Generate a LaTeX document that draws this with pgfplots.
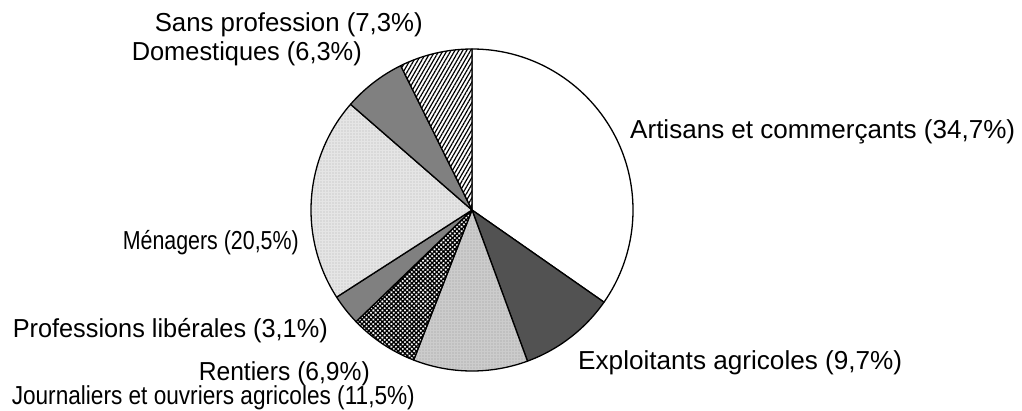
\documentclass[border=0pt]{standalone}
\usepackage{fontspec}
\setmainfont{Liberation Sans}
\usepackage{graphicx}
\usepackage{pgfplots}
\usepackage{pgfplotstable}
\pgfplotsset{compat=1.18}
\usetikzlibrary{patterns.meta}
\pgfkeys{/pgf/number format/assume math mode=true}

% shares in percent; label position in px (x, y from top), anchor and label width
\pgfplotstableread[col sep=comma]{
name,pct,lx,ly,anc,lw
Artisans et commerçants,34.7,630,132,west,385
Exploitants agricoles,9.7,578,363,west,324
Journaliers et ouvriers agricoles,11.5,415,398,east,403
Rentiers,6.9,370,374,east,171
Professions libérales,3.1,328,331,east,315
Ménagers,20.5,299,243,east,176
Domestiques,6.3,362,54,east,230
Sans profession,7.3,423,25,east,268
}\piedata

% slice angles, clockwise from 12 o'clock
\xdef\cum{0}
\foreach \i in {0,...,7}{%
  \pgfplotstablegetelem{\i}{pct}\of\piedata
  \global\expandafter\let\csname pieP\i\endcsname\pgfplotsretval
  \pgfmathsetmacro\a{90-3.6*\cum}%
  \pgfmathsetmacro\c{\cum+\pgfplotsretval}%
  \pgfmathsetmacro\b{90-3.6*\c}%
  \expandafter\xdef\csname pieA\i\endcsname{\a}%
  \expandafter\xdef\csname pieB\i\endcsname{\b}%
  \xdef\cum{\c}%
  \pgfplotstablegetelem{\i}{name}\of\piedata
  \global\expandafter\let\csname pieN\i\endcsname\pgfplotsretval
  \pgfplotstablegetelem{\i}{lx}\of\piedata
  \global\expandafter\let\csname pieX\i\endcsname\pgfplotsretval
  \pgfplotstablegetelem{\i}{ly}\of\piedata
  \pgfmathsetmacro\y{410-\pgfplotsretval}%
  \expandafter\xdef\csname pieY\i\endcsname{\y}%
  \pgfplotstablegetelem{\i}{anc}\of\piedata
  \global\expandafter\let\csname pieK\i\endcsname\pgfplotsretval
  \pgfplotstablegetelem{\i}{lw}\of\piedata
  \global\expandafter\let\csname pieW\i\endcsname\pgfplotsretval
}

\tikzset{
  pie0/.style={fill=white},
  pie1/.style={fill=black!68},
  pie2/.style={fill=black!20, postaction={pattern={Dots[distance=3bp,radius=0.7bp]}, pattern color=black!40}},
  pie3/.style={fill=white, postaction={pattern={Hatch[angle=45,distance=3.2bp,line width=1.3bp]}, pattern color=black}},
  pie4/.style={fill=black!50},
  pie5/.style={fill=black!10, postaction={pattern={Dots[distance=3bp,radius=0.6bp]}, pattern color=black!30}},
  pie6/.style={fill=black!50},
  pie7/.style={fill=white, postaction={pattern={Lines[angle=60,distance=3.4bp,line width=1.2bp]}, pattern color=black}},
}

\begin{document}
\begin{tikzpicture}
\begin{axis}[
  scale only axis,
  width=1022bp, height=410bp,
  xmin=0, xmax=1022, ymin=0, ymax=410,
  hide axis,
  clip=false,
]
\pgfplotsinvokeforeach{0,...,7}{
  \fill[pie#1] (axis cs:472,200) -- ++(\csname pieA#1\endcsname:161bp)
    arc[start angle=\csname pieA#1\endcsname, end angle=\csname pieB#1\endcsname, radius=161bp] -- cycle;
  \draw[black, line width=1.3bp, line join=round] (axis cs:472,200) -- ++(\csname pieA#1\endcsname:161bp)
    arc[start angle=\csname pieA#1\endcsname, end angle=\csname pieB#1\endcsname, radius=161bp] -- cycle;
}
\pgfplotsinvokeforeach{0,...,7}{
  \node[anchor=\csname pieK#1\endcsname, inner sep=0pt, font=\fontsize{26bp}{31bp}\selectfont]
    at (axis cs:\csname pieX#1\endcsname,\csname pieY#1\endcsname)
    {\resizebox{\csname pieW#1\endcsname bp}{\height}{\csname pieN#1\endcsname\ (\pgfmathprintnumber[fixed,fixed zerofill,precision=1,use comma]{\csname pieP#1\endcsname}\%)}};
}
\end{axis}
\pgfresetboundingbox
\useasboundingbox (current axis.south west) rectangle (current axis.north east);
\end{tikzpicture}
\end{document}
